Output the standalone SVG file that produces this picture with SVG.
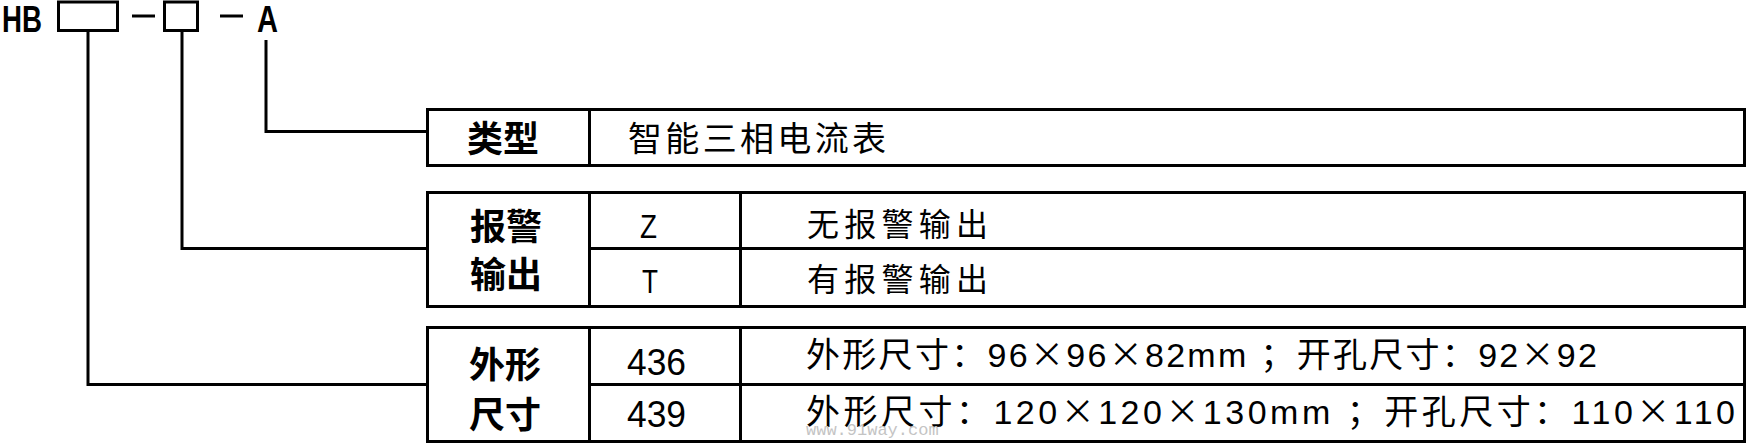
<svg xmlns="http://www.w3.org/2000/svg" width="1748" height="445" viewBox="0 0 1748 445">
<style>
.ln{fill:none;stroke:#000;stroke-width:3}
.b{font-family:"Liberation Sans","Noto Sans CJK SC",sans-serif;font-weight:bold;fill:#000}
.cj{font-family:"Noto Sans CJK SC",sans-serif;font-weight:bold;font-size:36px;fill:#000}
.t{font-family:"Liberation Sans","Noto Sans CJK SC",sans-serif;fill:#000}
.x{font-family:"Noto Sans CJK SC",sans-serif}
.wm{font-family:"Liberation Mono",monospace;font-size:17px;fill:#c4c4c4}
</style>
<rect width="1748" height="445" fill="#fff"/>
<g id="model">
<text class="b" x="2" y="32" font-size="37" textLength="40" lengthAdjust="spacingAndGlyphs">HB</text>
<rect class="ln" x="58.5" y="2" width="59" height="28.5"/>
<line class="ln" x1="132" y1="16" x2="155" y2="16"/>
<rect class="ln" x="164.5" y="2" width="33" height="28.5"/>
<line class="ln" x1="220" y1="16" x2="243" y2="16"/>
<text class="b" x="257" y="32" font-size="37" textLength="21" lengthAdjust="spacingAndGlyphs">A</text>
</g>
<g id="connectors">
<polyline class="ln" points="266,40 266,131.5 427,131.5"/>
<polyline class="ln" points="182,31 182,248.5 427,248.5"/>
<polyline class="ln" points="88,31 88,384.5 427,384.5"/>
</g>
<g id="type-table">
<rect class="ln" x="427.5" y="109.5" width="1317" height="56"/>
<line class="ln" x1="589.5" y1="109.5" x2="589.5" y2="165.5"/>
<text class="cj" x="503" y="152" text-anchor="middle">类型</text>
<text class="t" x="628" y="150.5" font-size="34" textLength="258" lengthAdjust="spacing">智能三相电流表</text>
</g>
<g id="alarm-table">
<rect class="ln" x="427.5" y="192.5" width="1317" height="114"/>
<line class="ln" x1="589.5" y1="192.5" x2="589.5" y2="306.5"/>
<line class="ln" x1="740.5" y1="192.5" x2="740.5" y2="306.5"/>
<line class="ln" x1="589.5" y1="248.5" x2="1744.5" y2="248.5"/>
<text class="cj" x="506" y="240" text-anchor="middle">报警</text>
<text class="cj" x="506" y="288" text-anchor="middle">输出</text>
<text class="t" x="640" y="238" font-size="34" textLength="17" lengthAdjust="spacingAndGlyphs">Z</text>
<text class="t" x="642" y="293" font-size="34" textLength="16" lengthAdjust="spacingAndGlyphs">T</text>
<text class="t" x="807" y="236" font-size="32" textLength="181" lengthAdjust="spacing">无报警输出</text>
<text class="t" x="807" y="291" font-size="32" textLength="181" lengthAdjust="spacing">有报警输出</text>
</g>
<g id="size-table">
<rect class="ln" x="427.5" y="327.5" width="1317" height="114"/>
<line class="ln" x1="589.5" y1="327.5" x2="589.5" y2="441.5"/>
<line class="ln" x1="740.5" y1="327.5" x2="740.5" y2="441.5"/>
<line class="ln" x1="589.5" y1="384.5" x2="1744.5" y2="384.5"/>
<text class="cj" x="505" y="378" text-anchor="middle">外形</text>
<text class="cj" x="505" y="428" text-anchor="middle">尺寸</text>
<text class="t" x="627" y="375" font-size="37" textLength="59" lengthAdjust="spacingAndGlyphs">436</text>
<text class="t" x="627" y="427" font-size="37" textLength="59" lengthAdjust="spacingAndGlyphs">439</text>
<text class="t" x="806" y="367" font-size="34" textLength="791" lengthAdjust="spacing">外形尺寸：96<tspan class="x">×</tspan>96<tspan class="x">×</tspan>82mm ；开孔尺寸：92<tspan class="x">×</tspan>92</text>
<text class="t" x="806" y="424" font-size="34" textLength="929" lengthAdjust="spacing">外形尺寸：120<tspan class="x">×</tspan>120<tspan class="x">×</tspan>130mm ；开孔尺寸：110<tspan class="x">×</tspan>110</text>
</g>
<text class="wm" x="806" y="435">www.91way.com</text>
</svg>
